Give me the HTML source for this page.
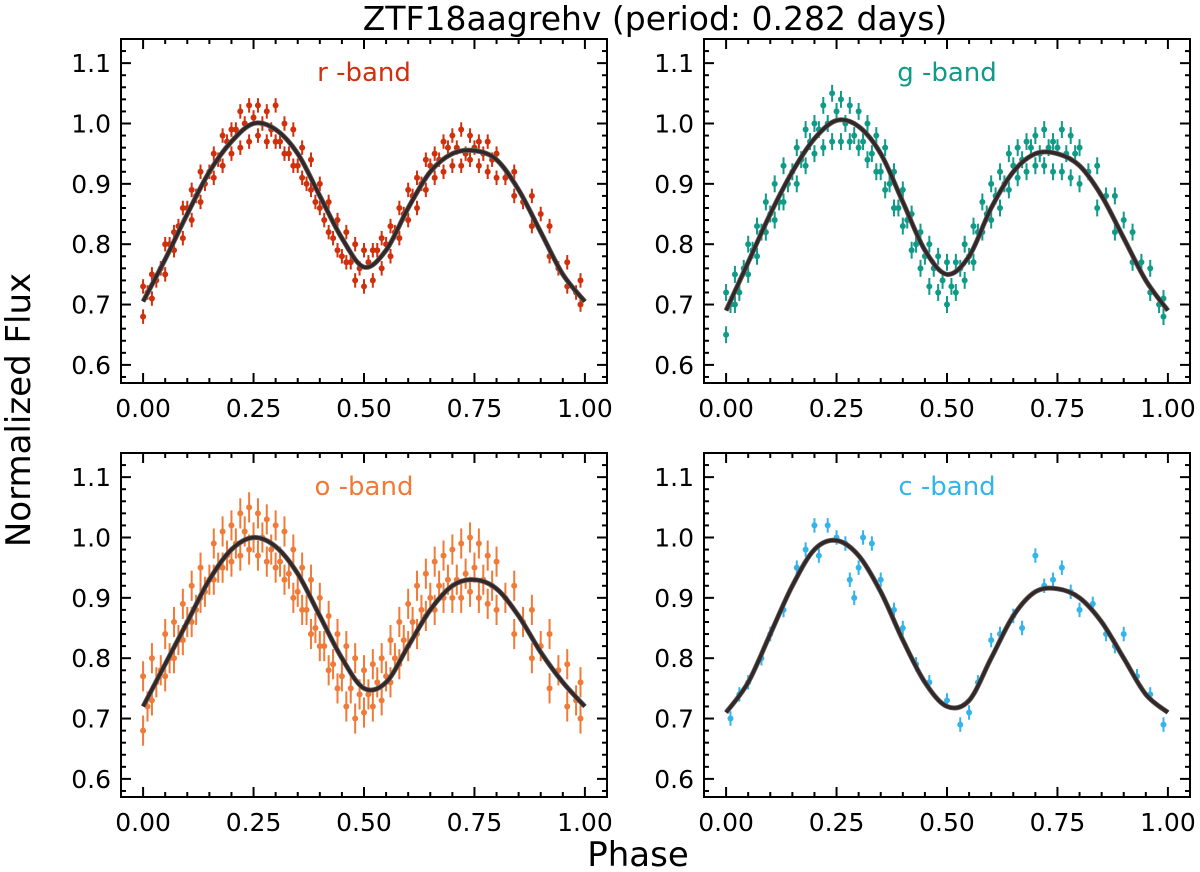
<!DOCTYPE html>
<html><head><meta charset="utf-8"><style>
body{margin:0;background:#fff;width:1200px;height:867px;overflow:hidden;font-family:"Liberation Sans","DejaVu Sans",sans-serif}
</style></head><body>
<svg id="fig" width="1200" height="867" xmlns="http://www.w3.org/2000/svg" font-family="DejaVu Sans, Liberation Sans, sans-serif">
<text x="655" y="30" font-size="33" text-anchor="middle">ZTF18aagrehv (period: 0.282 days)</text>
<text transform="translate(30,410) rotate(-90)" font-size="34" text-anchor="middle">Normalized Flux</text>
<text x="638" y="866" font-size="34" text-anchor="middle">Phase</text>
</svg>
<script>
const phases=[0.00,0.02,0.05,0.07,0.09,0.11,0.13,0.16,0.18,0.2,0.22,0.24,0.26,0.28,0.3,0.32,0.34,0.36,0.38,0.4,0.42,0.44,0.46,0.48,0.5,0.52,0.54,0.56,0.58,0.6,0.62,0.64,0.66,0.68,0.7,0.72,0.74,0.76,0.78,0.8,0.84,0.88,0.92,0.96,0.99];
const phases2=[0.01,0.03,0.04,0.06,0.08,0.1,0.12,0.14,0.15,0.17,0.19,0.21,0.23,0.25,0.27,0.29,0.31,0.33,0.35,0.37,0.39,0.41,0.43,0.45,0.47,0.49,0.51,0.53,0.55,0.57,0.59,0.61,0.63,0.65,0.67,0.69,0.71,0.73,0.75,0.77,0.79,0.82,0.86,0.9,0.94,0.98];
const rFluxA=[.73,.75,.8,.82,.86,.89,.92,.95,.98,.99,1.02,1.03,1.03,1.02,1.03,1.0,.99,.96,.94,.9,.87,.84,.82,.8,.79,.79,.81,.83,.86,.89,.91,.94,.95,.97,.98,.99,.98,.97,.97,.95,.92,.88,.83,.77,.74];
const rFluxB=[.68,.71,.75,.79,.81,.84,.87,.91,.93,.95,.96,.97,.98,.97,.97,.95,.93,.91,.89,.86,.82,.79,.77,.74,.73,.74,.76,.78,.81,.84,.86,.89,.91,.92,.93,.93,.94,.93,.92,.91,.88,.83,.78,.73,.70];
const rFluxC=[.72,.74,.76,.8,.83,.86,.88,.9,.92,.94,.97,.99,1.0,1.01,1.0,.99,.97,.95,.93,.9,.87,.84,.81,.78,.77,.76,.77,.79,.8,.82,.85,.88,.9,.93,.94,.96,.96,.95,.96,.95,.94,.91,.87,.85,.76,.72];
const gFluxA=[.72,.75,.8,.83,.87,.9,.93,.96,.99,1.0,1.03,1.05,1.04,1.03,1.02,1.0,.98,.96,.92,.89,.85,.82,.8,.78,.77,.77,.8,.83,.87,.9,.92,.95,.96,.97,.98,.99,.97,.99,.98,.96,.93,.88,.82,.76,.71];
const gFluxB=[.65,.7,.75,.78,.82,.84,.87,.9,.93,.95,.96,.97,.97,.97,.96,.94,.92,.89,.86,.83,.79,.76,.73,.72,.7,.72,.74,.77,.82,.84,.86,.89,.91,.92,.93,.93,.92,.92,.91,.9,.86,.82,.77,.72,.68];
const gFluxC=[.7,.72,.76,.79,.82,.85,.87,.9,.92,.94,.97,.99,1.0,1.02,1.0,.98,.97,.95,.92,.9,.86,.84,.8,.78,.76,.74,.73,.76,.78,.82,.85,.88,.9,.93,.94,.96,.95,.96,.96,.95,.95,.92,.88,.84,.77,.70];
const oFluxA=[.77,.8,.84,.86,.89,.92,.95,.99,1.01,1.02,1.04,1.05,1.04,1.03,1.02,1.01,.98,.95,.93,.9,.87,.84,.82,.8,.78,.79,.8,.83,.86,.89,.92,.94,.96,.97,.98,.99,1.0,.99,.97,.96,.92,.88,.84,.79,.76];
const oFluxB=[.68,.73,.77,.8,.83,.86,.9,.93,.95,.96,.97,.98,.97,.96,.95,.93,.9,.88,.84,.82,.78,.75,.72,.7,.71,.72,.73,.76,.79,.82,.84,.87,.88,.9,.9,.9,.91,.9,.89,.88,.84,.8,.75,.72,.70];
const oFluxC=[.72,.76,.78,.8,.83,.86,.88,.91,.93,.95,.97,.99,1.01,1.0,1.0,.98,.96,.94,.91,.88,.85,.82,.79,.77,.75,.74,.74,.76,.77,.8,.83,.86,.88,.9,.92,.93,.93,.94,.95,.93,.92,.9,.86,.82,.78,.73];
const cPhases=[0.01,0.03,0.05,0.08,0.1,0.13,0.16,0.18,0.2,0.21,0.23,0.25,0.27,0.28,0.29,0.3,0.31,0.33,0.35,0.38,0.4,0.43,0.46,0.5,0.53,0.55,0.57,0.6,0.62,0.65,0.67,0.7,0.72,0.74,0.76,0.78,0.8,0.83,0.86,0.88,0.9,0.93,0.96,0.99];
const cFlux=[.7,.74,.76,.8,.84,.88,.95,.98,1.02,.97,1.02,1.0,.99,.93,.9,.95,1.0,.99,.93,.88,.85,.79,.76,.73,.69,.71,.76,.83,.84,.87,.85,.97,.92,.93,.95,.91,.88,.89,.84,.82,.84,.77,.74,.69];
const curvePhase=[0,.05,.1,.15,.2,.25,.3,.35,.4,.45,.5,.55,.6,.65,.7,.75,.8,.85,.9,.95,1];
const rCurve=[.705,.775,.85,.92,.97,1.0,.99,.95,.88,.81,.762,.79,.86,.92,.95,.955,.94,.89,.82,.75,.705];
const gCurve=[.69,.77,.85,.92,.975,1.005,.995,.95,.87,.79,.75,.78,.86,.92,.95,.95,.93,.88,.81,.74,.69];
const oCurve=[.72,.79,.86,.93,.98,1.0,.985,.94,.87,.8,.75,.76,.82,.88,.92,.93,.915,.87,.81,.76,.72];
const cCurve=[.71,.76,.84,.92,.98,.995,.97,.91,.83,.76,.72,.73,.8,.87,.91,.915,.9,.86,.8,.74,.71];
const xTicks=[0,0.25,0.5,0.75,1.0];
const xTickLabels=["0.00","0.25","0.50","0.75","1.00"];
const yTicks=[0.6,0.7,0.8,0.9,1.0,1.1];
const yTickLabels=["0.6","0.7","0.8","0.9","1.0","1.1"];
const rErr=0.012, gErr=0.014, oErr=0.025, cErr=0.012;

const NS="http://www.w3.org/2000/svg";
const fig=document.getElementById('fig');
function mk(tag,attrs,parent){const e=document.createElementNS(NS,tag);for(const k in attrs)e.setAttribute(k,attrs[k]);(parent||fig).appendChild(e);return e;}
const panels=[
 {name:'r',label:'r -band',color:'#d0300c',x0:121,y0:39,sets:[[phases,rFluxA],[phases,rFluxB],[phases2,rFluxC]],err:rErr,curve:rCurve},
 {name:'g',label:'g -band',color:'#109a88',x0:704,y0:39,sets:[[phases,gFluxA],[phases,gFluxB],[phases2,gFluxC]],err:gErr,curve:gCurve},
 {name:'o',label:'o -band',color:'#f07b38',x0:121,y0:453,sets:[[phases,oFluxA],[phases,oFluxB],[phases2,oFluxC]],err:oErr,curve:oCurve},
 {name:'c',label:'c -band',color:'#33b4ea',x0:704,y0:453,sets:[[cPhases,cFlux]],err:cErr,curve:cCurve}
];
const W=486,H=344,XMIN=-0.05,XMAX=1.05,YMIN=0.57,YMAX=1.14;
panels.forEach(p=>{
 const g=mk('g',{});
 
 
 const sx=v=>p.x0+(v-XMIN)/(XMAX-XMIN)*W;
 const sy=v=>p.y0+H-(v-YMIN)/(YMAX-YMIN)*H;
 p.sets.forEach((s,si)=>{
  s[0].forEach((ph,i)=>{
   const cx=sx(ph),cy=sy(s[1][i]);
   const l=mk('line',{x1:cx,x2:cx,y1:sy(s[1][i]+p.err),y2:sy(s[1][i]-p.err),stroke:p.color,'stroke-width':2},g);
   
   
   const c=mk('circle',{cx:cx,cy:cy,r:3,fill:p.color},g);
   
   
  });
 });
 const pts=curvePhase.map((ph,i)=>[sx(ph),sy(p.curve[i])]);
 let d='M'+pts[0][0]+','+pts[0][1];
 for(let i=0;i<pts.length-1;i++){
  const p0=pts[Math.max(0,i-1)],p1=pts[i],p2=pts[i+1],p3=pts[Math.min(pts.length-1,i+2)];
  d+=' C'+(p1[0]+(p2[0]-p0[0])/6)+','+(p1[1]+(p2[1]-p0[1])/6)+' '+(p2[0]-(p3[0]-p1[0])/6)+','+(p2[1]-(p3[1]-p1[1])/6)+' '+p2[0]+','+p2[1];
 }
 const mg=mk('path',{d:d,fill:'none',stroke:'#666','stroke-width':5},g);
 
 
 const mc=mk('path',{d:d,fill:'none',stroke:'#2a1c1c','stroke-width':3.5,'stroke-opacity':0.85},g);
 
 
 const fr=mk('rect',{x:p.x0,y:p.y0,width:W,height:H,fill:'none',stroke:'#000','stroke-width':2},g);
 
 
 for(let k=0;k<=20;k++){const v=k*0.05;const x=sx(v);const len=(k%5===0)?10:5;
  mk('line',{x1:x,x2:x,y1:p.y0+H,y2:p.y0+H-len,stroke:'#000','stroke-width':2},g);
  mk('line',{x1:x,x2:x,y1:p.y0,y2:p.y0+len,stroke:'#000','stroke-width':2},g);}
 xTicks.forEach((v,i)=>{const t=mk('text',{x:sx(v),y:p.y0+H+34,'font-size':25,'text-anchor':'middle'},g);t.textContent=xTickLabels[i];
  
  });
 for(let k=0;k<=30;k++){const v=0.58+k*0.02;if(v>YMAX)break;const y=sy(v);const major=Math.abs((v*10)-Math.round(v*10))<1e-6;const len=major?10:5;
  mk('line',{x1:p.x0,x2:p.x0+len,y1:y,y2:y,stroke:'#000','stroke-width':2},g);
  mk('line',{x1:p.x0+W,x2:p.x0+W-len,y1:y,y2:y,stroke:'#000','stroke-width':2},g);}
 yTicks.forEach((v,i)=>{const t=mk('text',{x:p.x0-10,y:sy(v)+9,'font-size':25,'text-anchor':'end'},g);t.textContent=yTickLabels[i];
  
  });
 const bl=mk('text',{x:p.x0+243,y:p.y0+42,'font-size':26,'text-anchor':'middle',fill:p.color},g);
 bl.textContent=p.label;
 
 
});
</script>
</body></html>
